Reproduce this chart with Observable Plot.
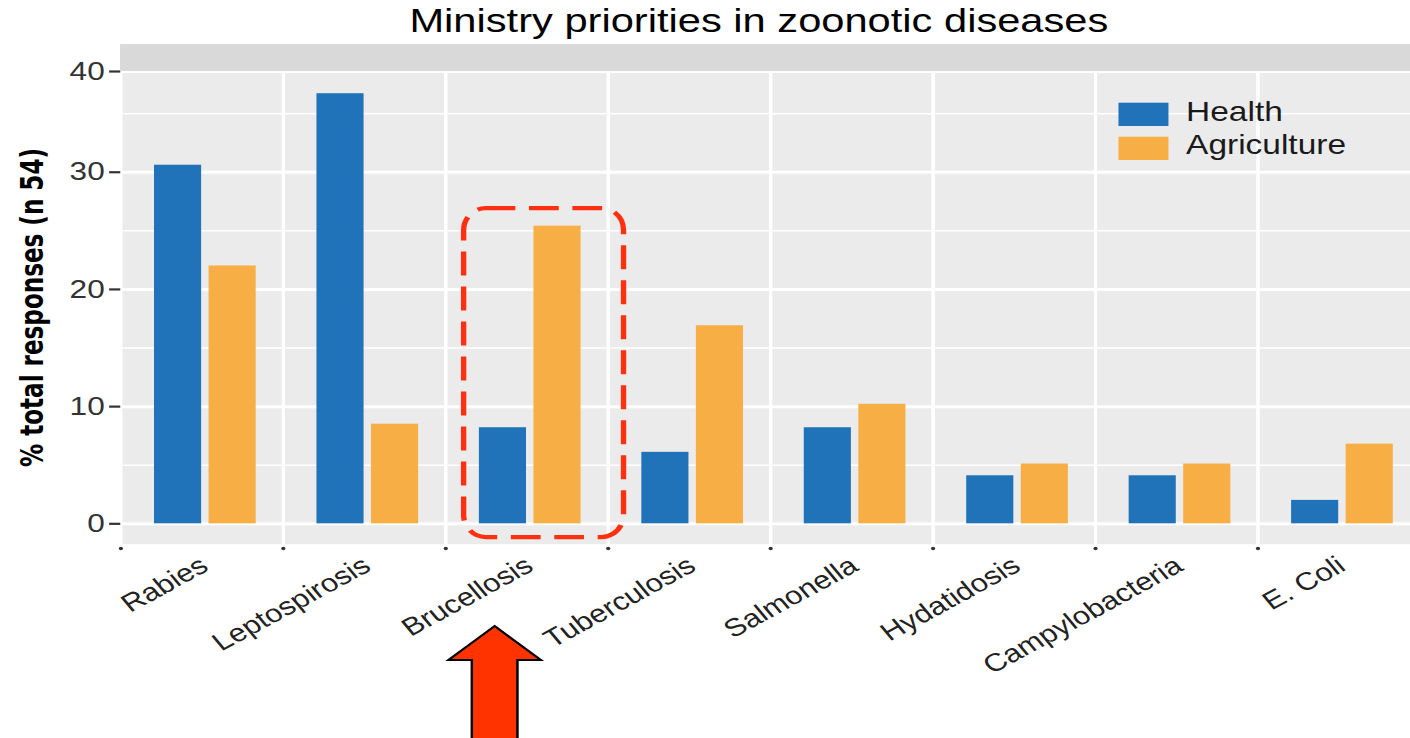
<!DOCTYPE html>
<html>
<head>
<meta charset="utf-8">
<script src="https://cdn.jsdelivr.net/npm/d3@7"></script>
<script src="https://cdn.jsdelivr.net/npm/@observablehq/plot@0.6"></script>
<style>
  html, body { margin: 0; padding: 0; background: #fff; }
  #wrap { position: relative; width: 1410px; height: 738px; overflow: hidden; background: #fff; }
  #stretch { position: absolute; left: 0; top: 0; width: 1160px; height: 738px; transform: scaleX(1.24); transform-origin: 0 0; }
  #ylab { position: absolute; left: 0; top: 0; }
</style>
</head>
<body>
<div id="wrap">
  <div id="stretch"></div>
  <svg id="ylab" width="80" height="738"></svg>
</div>
<script>
// ---- data ----
const title = "Ministry priorities in zoonotic diseases";
const yLabel = "% total responses (n 54)";
const diseases = ["Rabies", "Leptospirosis", "Brucellosis", "Tuberculosis", "Salmonella", "Hydatidosis", "Campylobacteria", "E. Coli"];
const ministries = ["Health", "Agriculture"];
const healthPct = [30.6, 36.7, 8.2, 6.1, 8.2, 4.1, 4.1, 2.0];
const agriculturePct = [22.0, 8.5, 25.4, 16.9, 10.2, 5.1, 5.1, 6.8];
const seriesColors = ["#2073B9", "#F7AE45"];
const yTicks = [0, 10, 20, 30, 40];
const yMinorTicks = [5, 15, 25, 35];
const highlight = [{disease: "Brucellosis", low: -1.17, high: 26.9}];
const arrowTarget = "Brucellosis";

// ---- table built from arrays ----
const rows = diseases.flatMap((d, i) => [
  {disease: d, ministry: ministries[0], pct: healthPct[i]},
  {disease: d, ministry: ministries[1], pct: agriculturePct[i]}
]);

const W = 1160, H = 738;
const mL = 96.8, facetW = 131.05;
const mR = W - mL - facetW * diseases.length;
const font = "'Liberation Sans', Arial, Helvetica, sans-serif";

const plot = Plot.plot({
  width: W,
  height: H,
  marginLeft: mL,
  marginRight: mR,
  marginTop: 71,
  marginBottom: H - 545,
  style: {fontFamily: font, background: "transparent", overflow: "visible"},
  fx: {domain: diseases, padding: 0, label: null},
  x: {domain: ministries, paddingInner: 0.14, paddingOuter: 0.54, align: 0.55, axis: null, label: null},
  y: {type: "linear", domain: [-1.85, 38.4, 40], range: [545, 73.3, 71], label: null},
  color: {domain: ministries, range: seriesColors},
  marks: [
    Plot.frame({fill: "#EBEBEB"}),
    Plot.gridY({ticks: yMinorTicks, stroke: "#fff", strokeOpacity: 1, strokeWidth: 1.5}),
    Plot.gridY({ticks: yTicks, stroke: "#fff", strokeOpacity: 1, strokeWidth: 3}),
    Plot.frame({stroke: "#fff", strokeWidth: 2.5}),
    Plot.barY(rows, {fx: "disease", x: "ministry", y: "pct", fill: "ministry"}),
    Plot.rect(highlight, {fx: "disease", y1: "low", y2: "high", insetLeft: 14.9, insetRight: -12.85,
      fill: "none", stroke: "#FF3010", strokeWidth: 4.3, strokeDasharray: "24,11", rx: 17.7, ry: 22}),
    Plot.dot(diseases, {fx: d => d, frameAnchor: "bottom-left", r: 1.7, fill: "#333", stroke: null, dy: 3}),
    Plot.axisY({ticks: yTicks, tickSize: 9, tickPadding: 4, fontSize: 25.5, color: "#333", strokeWidth: 2.2, label: null}),
    Plot.axisFx({anchor: "bottom", tickSize: 0, tickPadding: 24, tickRotate: -34, textAnchor: "end", lineAnchor: "bottom",
      fontSize: 25, color: "#222", dx: 6.5, label: null})
  ]
});

document.getElementById("stretch").appendChild(plot);
const svg = d3.select(plot);

// facet strip (empty) above the panel
svg.append("rect").attr("x", mL).attr("y", 44).attr("width", W - mL).attr("height", 27).attr("fill", "#D9D9D9");

// title
svg.append("text").attr("x", 612).attr("y", 32).attr("text-anchor", "middle")
  .attr("font-size", 33.6).attr("fill", "#000").attr("font-family", font).text(title);

// legend inside the panel
const lg = svg.append("g").attr("text-anchor", "start");
ministries.forEach((m, i) => {
  lg.append("rect").attr("x", 902).attr("y", 102.7 + 34 * i).attr("width", 40.3).attr("height", 23.3).attr("fill", seriesColors[i]);
  lg.append("text").attr("x", 956.5).attr("y", 121 + 33 * i).attr("text-anchor", "start").attr("font-size", 27).attr("fill", "#1a1a1a")
    .attr("font-family", font).text(m);
});

// red block arrow pointing at the highlighted category
const fxScale = plot.scale("fx");
const bx = fxScale.apply(arrowTarget);
const tipX = bx + 39.9, tipY = 626, headY = 660, headHalf = 37.3, shaftHalf = 18.4, bottomY = 760;
const pts = [
  [tipX, tipY], [tipX + headHalf, headY], [tipX + shaftHalf, headY], [tipX + shaftHalf, bottomY],
  [tipX - shaftHalf, bottomY], [tipX - shaftHalf, headY], [tipX - headHalf, headY]
];
svg.append("path").attr("d", "M" + pts.map(p => p.join(",")).join("L") + "Z")
  .attr("fill", "#FF3300").attr("stroke", "#000").attr("stroke-width", 2).attr("stroke-linejoin", "miter");

// y axis title (not stretched)
d3.select("#ylab").append("text")
  .attr("x", 43).attr("y", 307.5)
  .attr("transform", "rotate(-90,43,307.5)")
  .attr("text-anchor", "middle")
  .attr("font-family", "'Liberation Sans Narrow', 'DejaVu Sans Condensed', 'Open Sans', sans-serif")
  .attr("font-weight", "bold")
  .attr("font-size", 32)
  .attr("textLength", 319)
  .attr("lengthAdjust", "spacingAndGlyphs")
  .attr("fill", "#000")
  .text(yLabel);
</script>
</body>
</html>
